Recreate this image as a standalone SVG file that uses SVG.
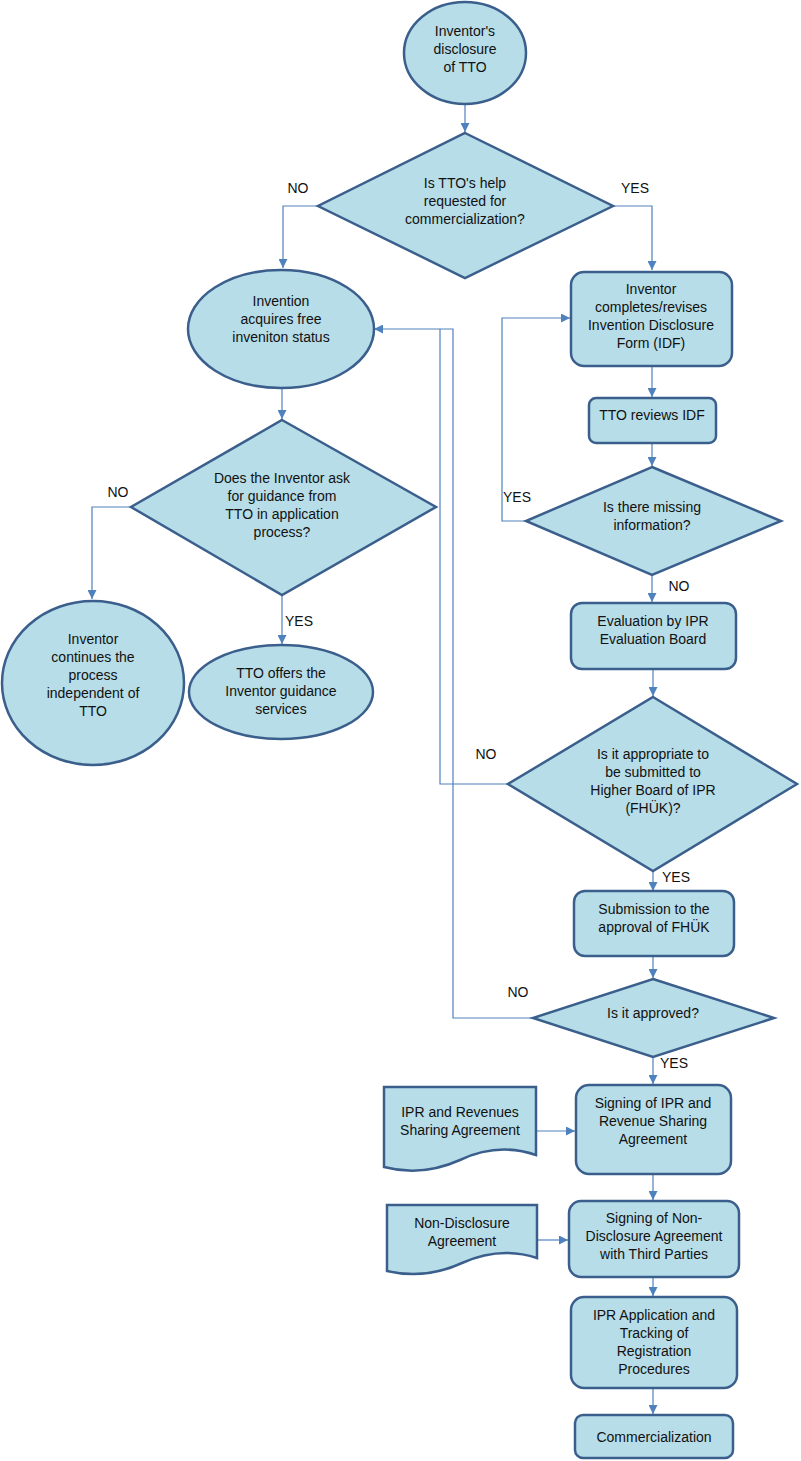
<svg xmlns="http://www.w3.org/2000/svg" width="801" height="1461" viewBox="0 0 801 1461">
<style>
.n{fill:#b7dde8;stroke:#3b5f8c;stroke-width:2.5}
.c{fill:none;stroke:#4f81bd;stroke-width:1.2}
text{font-family:"Liberation Sans",Arial,sans-serif;font-size:14px;fill:#111;text-anchor:middle}
</style>
<defs>
<marker id="a" viewBox="0 0 10 10" refX="10" refY="5" markerWidth="9" markerHeight="9" markerUnits="userSpaceOnUse" orient="auto">
<path d="M0,0 L10,5 L0,10 Z" fill="#4f81bd"/>
</marker>
</defs>
<rect width="801" height="1461" fill="#fff"/>
<g id="connectors">
<path class="c" d="M465,104 V132" marker-end="url(#a)"/>
<path class="c" d="M318,206 H283 V268" marker-end="url(#a)"/>
<path class="c" d="M613,206 H652 V270" marker-end="url(#a)"/>
<path class="c" d="M652,366 V397" marker-end="url(#a)"/>
<path class="c" d="M652,443 V466" marker-end="url(#a)"/>
<path class="c" d="M526,521 H502 V318 H570" marker-end="url(#a)"/>
<path class="c" d="M652,575 V602" marker-end="url(#a)"/>
<path class="c" d="M653,669 V696" marker-end="url(#a)"/>
<path class="c" d="M508,784 H440 V329"/>
<path class="c" d="M533,1018 H453 V329 H374" marker-end="url(#a)"/>
<path class="c" d="M653,871 V891" marker-end="url(#a)"/>
<path class="c" d="M653,956 V978" marker-end="url(#a)"/>
<path class="c" d="M653,1057 V1084" marker-end="url(#a)"/>
<path class="c" d="M536,1131 H575" marker-end="url(#a)"/>
<path class="c" d="M653,1174 V1200" marker-end="url(#a)"/>
<path class="c" d="M537,1240 H568" marker-end="url(#a)"/>
<path class="c" d="M653,1277 V1296" marker-end="url(#a)"/>
<path class="c" d="M653,1388 V1414" marker-end="url(#a)"/>
<path class="c" d="M282,388 V419" marker-end="url(#a)"/>
<path class="c" d="M131,507 H92 V599" marker-end="url(#a)"/>
<path class="c" d="M282,595 V644" marker-end="url(#a)"/>
</g>
<g id="labels">
<text x="298" y="193">NO</text>
<text x="635" y="193">YES</text>
<text x="517" y="502">YES</text>
<text x="679" y="591">NO</text>
<text x="486" y="759">NO</text>
<text x="676" y="882">YES</text>
<text x="518" y="997">NO</text>
<text x="674" y="1068">YES</text>
<text x="118" y="497">NO</text>
<text x="299" y="626">YES</text>
</g>
<g id="start">
<ellipse class="n" cx="465" cy="53" rx="61" ry="51"/>
<text x="465" y="36">Inventor's</text>
<text x="465" y="54">disclosure</text>
<text x="465" y="72">of TTO</text>
</g>
<g id="d1">
<polygon class="n" points="465,133 613,206 465,278 318,206"/>
<text x="465" y="188">Is TTO's help</text>
<text x="465" y="206">requested for</text>
<text x="465" y="224">commercialization?</text>
</g>
<g id="free">
<ellipse class="n" cx="281" cy="329" rx="93" ry="59"/>
<text x="281" y="306">Invention</text>
<text x="281" y="324">acquires free</text>
<text x="281" y="342">inveniton status</text>
</g>
<g id="idf">
<rect class="n" x="571" y="272" width="161" height="94" rx="13"/>
<text x="651" y="294">Inventor</text>
<text x="651" y="312">completes/revises</text>
<text x="651" y="330">Invention Disclosure</text>
<text x="651" y="348">Form (IDF)</text>
</g>
<g id="review">
<rect class="n" x="589" y="398" width="127" height="45" rx="7"/>
<text x="652" y="420">TTO reviews IDF</text>
</g>
<g id="d2">
<polygon class="n" points="652,467 781,521 652,575 526,521"/>
<text x="652" y="512">Is there missing</text>
<text x="652" y="530">information?</text>
</g>
<g id="eval">
<rect class="n" x="571" y="603" width="165" height="66" rx="11"/>
<text x="653" y="626">Evaluation by IPR</text>
<text x="653" y="644">Evaluation Board</text>
</g>
<g id="d3">
<polygon class="n" points="653,697 797,784 653,871 508,784"/>
<text x="653" y="759">Is it appropriate to</text>
<text x="653" y="777">be submitted to</text>
<text x="653" y="795">Higher Board of IPR</text>
<text x="653" y="813">(FHÜK)?</text>
</g>
<g id="submit">
<rect class="n" x="574" y="891" width="160" height="65" rx="11"/>
<text x="654" y="914">Submission to the</text>
<text x="654" y="932">approval of FHÜK</text>
</g>
<g id="d4">
<polygon class="n" points="653,979 774,1018 653,1057 533,1018"/>
<text x="653" y="1018">Is it approved?</text>
</g>
<g id="sign1">
<rect class="n" x="576" y="1085" width="155" height="89" rx="13"/>
<text x="653" y="1108">Signing of IPR and</text>
<text x="653" y="1126">Revenue Sharing</text>
<text x="653" y="1144">Agreement</text>
</g>
<g id="doc1">
<path class="n" d="M384,1087 H536 V1155 Q498,1142 460,1160 Q422,1177 384,1167 Z"/>
<text x="460" y="1117">IPR and Revenues</text>
<text x="460" y="1135">Sharing Agreement</text>
</g>
<g id="sign2">
<rect class="n" x="569" y="1201" width="170" height="76" rx="12"/>
<text x="654" y="1223">Signing of Non-</text>
<text x="654" y="1241">Disclosure Agreement</text>
<text x="654" y="1259">with Third Parties</text>
</g>
<g id="doc2">
<path class="n" d="M387,1205 H537 V1258 Q500,1246 462,1263 Q425,1280 387,1271 Z"/>
<text x="462" y="1228">Non-Disclosure</text>
<text x="462" y="1246">Agreement</text>
</g>
<g id="apply">
<rect class="n" x="571" y="1297" width="166" height="91" rx="13"/>
<text x="654" y="1320">IPR Application and</text>
<text x="654" y="1338">Tracking of</text>
<text x="654" y="1356">Registration</text>
<text x="654" y="1374">Procedures</text>
</g>
<g id="comm">
<rect class="n" x="575" y="1415" width="158" height="43" rx="8"/>
<text x="654" y="1442">Commercialization</text>
</g>
<g id="d5">
<polygon class="n" points="282,420 436,507 282,595 131,507"/>
<text x="282" y="483">Does the Inventor ask</text>
<text x="282" y="501">for guidance from</text>
<text x="282" y="519">TTO in application</text>
<text x="282" y="537">process?</text>
</g>
<g id="indep">
<ellipse class="n" cx="93" cy="683" rx="91" ry="82"/>
<text x="93" y="644">Inventor</text>
<text x="93" y="662">continues the</text>
<text x="93" y="680">process</text>
<text x="93" y="698">independent of</text>
<text x="93" y="716">TTO</text>
</g>
<g id="guide">
<ellipse class="n" cx="281" cy="692" rx="92" ry="47"/>
<text x="281" y="678">TTO offers the</text>
<text x="281" y="696">Inventor guidance</text>
<text x="281" y="714">services</text>
</g>
</svg>
